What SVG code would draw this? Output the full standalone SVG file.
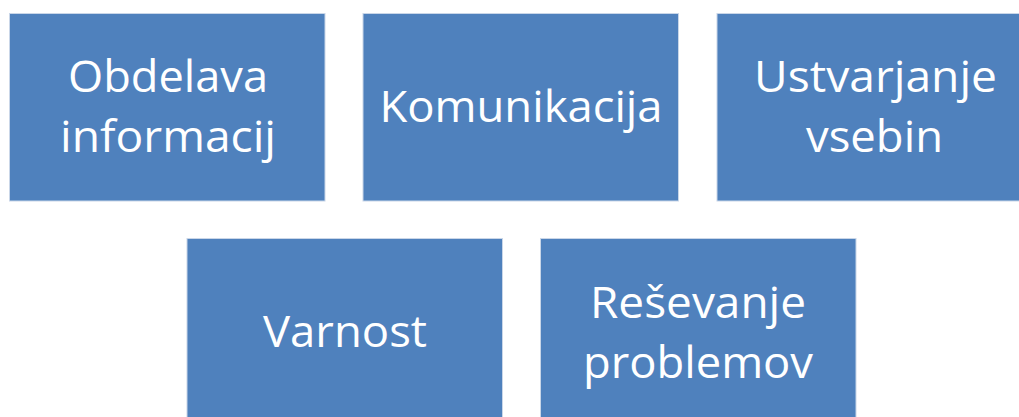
<svg xmlns="http://www.w3.org/2000/svg" width="1019" height="417" viewBox="0 0 1019 417">
<style>
.b{fill:#4F81BD;stroke:#C9D6E8;stroke-width:1}
.t{font-family:"Open Sans","Liberation Sans",sans-serif;font-size:44px;fill:#FFFFFF;text-anchor:middle}
</style>
<rect width="1019" height="417" fill="#FFFFFF"/>
<g id="n1"><rect class="b" x="9.5" y="13.5" width="315.5" height="187.5"/>
<text class="t" x="168" y="92" textLength="200" lengthAdjust="spacingAndGlyphs">Obdelava</text>
<text class="t" x="168" y="152" textLength="216" lengthAdjust="spacingAndGlyphs">informacij</text></g>
<g id="n2"><rect class="b" x="363" y="13.5" width="315.5" height="187.5"/>
<text class="t" x="521" y="122" textLength="283" lengthAdjust="spacingAndGlyphs">Komunikacija</text></g>
<g id="n3"><rect class="b" x="717" y="13.5" width="315.5" height="187.5"/>
<text class="t" x="875.5" y="92" textLength="243" lengthAdjust="spacingAndGlyphs">Ustvarjanje</text>
<text class="t" x="874.5" y="152" textLength="137" lengthAdjust="spacingAndGlyphs">vsebin</text></g>
<g id="n4"><rect class="b" x="187" y="238.5" width="315.5" height="187.5"/>
<text class="t" x="345" y="347" textLength="164" lengthAdjust="spacingAndGlyphs">Varnost</text></g>
<g id="n5"><rect class="b" x="540.5" y="238.5" width="315.5" height="187.5"/>
<text class="t" x="698" y="318" textLength="216" lengthAdjust="spacingAndGlyphs">Reševanje</text>
<text class="t" x="698" y="378" textLength="230" lengthAdjust="spacingAndGlyphs">problemov</text></g>
<g id="connectors"/>
</svg>
